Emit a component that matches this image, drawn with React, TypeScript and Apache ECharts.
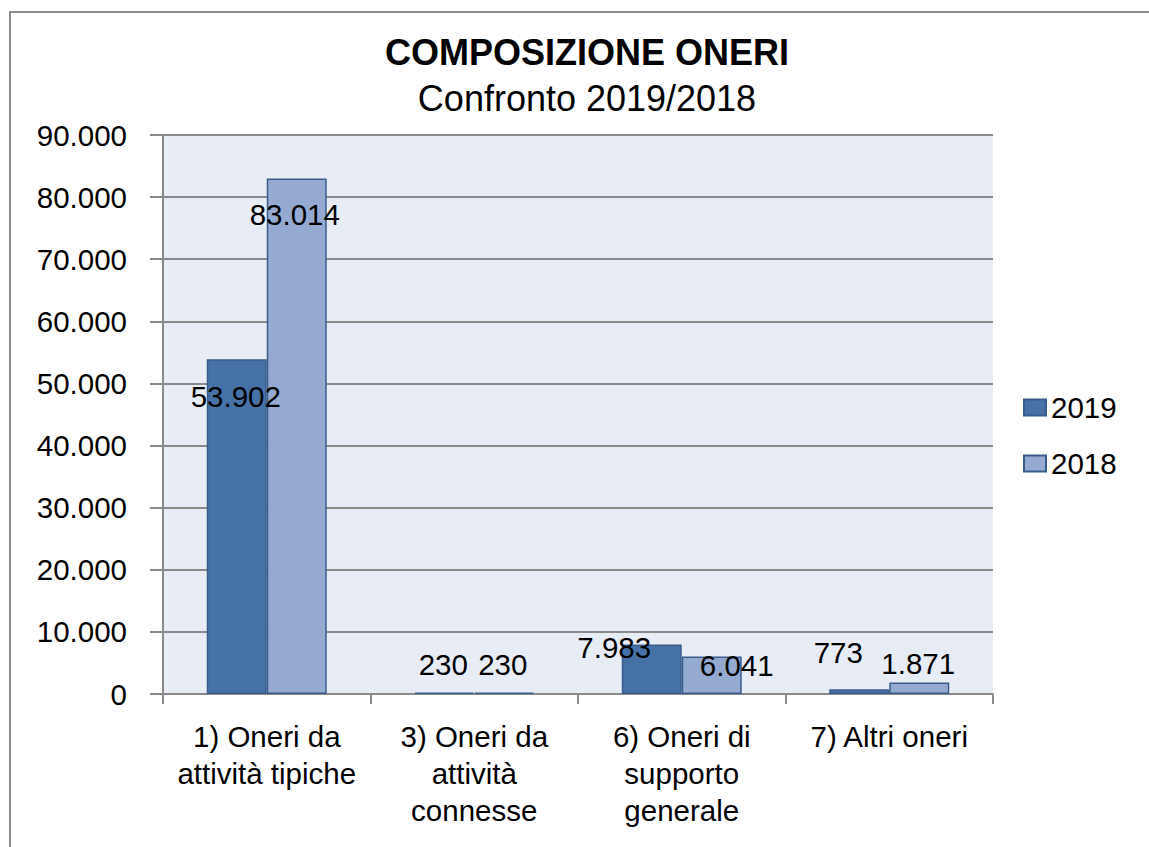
import React, { useEffect, useRef } from "react";
import * as echarts from "echarts";

const categories = [
  "1) Oneri da\nattività tipiche",
  "3) Oneri da\nattività\nconnesse",
  "6) Oneri di\nsupporto\ngenerale",
  "7) Altri oneri",
];
const values2019 = [53902, 230, 7983, 773];
const values2018 = [83014, 230, 6041, 1871];
const seriesNames = ["2019", "2018"];
const yTicks = { min: 0, max: 90000, interval: 10000 };

// label placement offsets (style only), relative to bar top centre
const labelOffsets2019 = [[-1, 37], [-1, -28.5], [-37.5, 3.5], [-21, -36.5]];
const labelOffsets2018 = [[-2, 36.5], [-1.5, -28.5], [25, 9], [-1, -18.5]];

const FONT = "'Liberation Sans', Arial, Helvetica, sans-serif";

const fmt = (v: number) => String(v).replace(/\B(?=(\d{3})+(?!\d))/g, ".");

function buildData(values: number[], offsets: number[][]) {
  return values.map((v, i) => ({
    value: v,
    label: { offset: offsets[i] },
  }));
}

export default function App() {
  const ref = useRef<HTMLDivElement>(null);
  useEffect(() => {
    if (!ref.current) return;
    const chart = echarts.init(ref.current, null, { renderer: "svg" });
    const labelCommon = {
      show: true,
      position: ["50%", 0],
      align: "center",
      verticalAlign: "middle",
      color: "#000",
      fontSize: 29.5,
      fontFamily: FONT,
      formatter: (p: any) => fmt(p.value),
    };
    chart.setOption({
      animation: false,
      backgroundColor: "#ffffff",
      graphic: [
        {
          type: "rect",
          shape: { x: 10, y: 12, width: 1300, height: 1000 },
          style: { fill: "none", stroke: "#8a8a8a", lineWidth: 2 },
          silent: true,
          z: -10,
        },
        {
          type: "text",
          x: 587,
          y: 52,
          style: {
            text: "COMPOSIZIONE ONERI",
            font: `bold 36px ${FONT}`,
            fill: "#000",
            align: "center",
            verticalAlign: "middle",
          },
        },
        {
          type: "text",
          x: 587,
          y: 98,
          style: {
            text: "Confronto 2019/2018",
            font: `36px ${FONT}`,
            fill: "#000",
            align: "center",
            verticalAlign: "middle",
          },
        },
      ],
      grid: {
        left: 163,
        top: 135,
        right: 156,
        bottom: 153,
        show: true,
        backgroundColor: "#e8ecf4",
        borderWidth: 0,
      },
      legend: {
        orient: "vertical",
        left: 1023,
        top: 392,
        padding: 0,
        itemWidth: 22,
        itemHeight: 16,
        itemGap: 25,
        icon: "rect",
        textStyle: { fontSize: 29.5, fontFamily: FONT, color: "#000", lineHeight: 31 },
        data: seriesNames,
      },
      xAxis: {
        type: "category",
        data: categories,
        axisLine: { show: true, lineStyle: { color: "#8a8a8a", width: 2 } },
        axisTick: { show: true, length: 10, alignWithLabel: false, lineStyle: { color: "#8a8a8a", width: 2 } },
        axisLabel: {
          interval: 0,
          margin: 24,
          fontSize: 29.5,
          lineHeight: 37,
          fontFamily: FONT,
          color: "#000",
          align: "center",
        },
        splitLine: { show: false },
      },
      yAxis: {
        type: "value",
        min: yTicks.min,
        max: yTicks.max,
        interval: yTicks.interval,
        axisLine: { show: true, lineStyle: { color: "#8a8a8a", width: 2 } },
        axisTick: { show: true, length: 13, inside: false, lineStyle: { color: "#8a8a8a", width: 2 } },
        axisLabel: {
          margin: 36,
          fontSize: 29.5,
          fontFamily: FONT,
          color: "#000",
          formatter: (v: number) => fmt(v),
        },
        splitLine: { show: true, lineStyle: { color: "#8a8a8a", width: 2 } },
      },
      series: [
        {
          name: seriesNames[0],
          type: "bar",
          barWidth: 60,
          barGap: "0%",
          data: buildData(values2019, labelOffsets2019),
          itemStyle: { color: "#4672a8", borderColor: "#385d8a", borderWidth: 1.5 },
          label: labelCommon,
        },
        {
          name: seriesNames[1],
          type: "bar",
          barWidth: 60,
          barGap: "0%",
          data: buildData(values2018, labelOffsets2018),
          itemStyle: { color: "#95aad0", borderColor: "#385d8a", borderWidth: 1.5 },
          label: labelCommon,
        },
      ],
    });
    return () => chart.dispose();
  }, []);
  return <div ref={ref} style={{ width: 1149, height: 847, position: "absolute", left: 0, top: 0 }} />;
}
